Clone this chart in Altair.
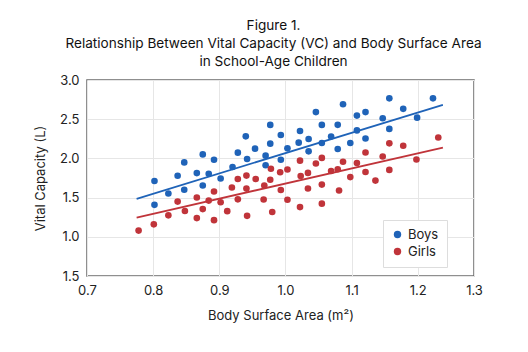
import altair as alt
import pandas as pd

boys_x = [0.802, 0.802, 0.823, 0.837, 0.847, 0.847, 0.866, 0.875, 0.875, 0.884,
          0.892, 0.902, 0.920, 0.928, 0.940, 0.942, 0.954, 0.970, 0.970, 0.977,
          0.977, 0.993, 0.993, 1.003, 1.020, 1.022, 1.035, 1.035, 1.046, 1.055,
          1.055, 1.069, 1.079, 1.079, 1.087, 1.098, 1.108, 1.108, 1.121, 1.121,
          1.147, 1.157, 1.157, 1.178, 1.199, 1.223]
boys_y = [1.711, 1.408, 1.552, 1.779, 1.949, 1.600, 1.813, 2.051, 1.655, 1.804,
          1.983, 1.744, 1.890, 2.073, 2.281, 1.992, 2.124, 2.035, 1.913, 2.427,
          2.188, 2.299, 1.983, 2.128, 2.201, 2.350, 2.248, 2.090, 2.591, 2.427,
          2.197, 2.278, 2.428, 2.120, 2.691, 2.197, 2.546, 2.357, 2.591, 2.254,
          2.512, 2.766, 2.376, 2.632, 2.520, 2.766]
girls_x = [0.778, 0.801, 0.823, 0.837, 0.848, 0.866, 0.866, 0.875, 0.884, 0.892,
           0.892, 0.902, 0.912, 0.919, 0.928, 0.928, 0.941, 0.941, 0.942, 0.955,
           0.967, 0.968, 0.978, 0.977, 0.980, 0.992, 0.993, 1.003, 1.003, 1.022,
           1.023, 1.022, 1.034, 1.034, 1.046, 1.055, 1.055, 1.055, 1.069, 1.079,
           1.081, 1.087, 1.098, 1.108, 1.121, 1.121, 1.136, 1.147, 1.157, 1.157,
           1.178, 1.198, 1.231]
girls_y = [1.079, 1.159, 1.274, 1.449, 1.329, 1.501, 1.239, 1.353, 1.462, 1.578,
           1.212, 1.440, 1.327, 1.629, 1.737, 1.478, 1.781, 1.615, 1.267, 1.737,
           1.476, 1.655, 1.868, 1.728, 1.316, 1.824, 1.597, 1.858, 1.472, 1.971,
           1.775, 1.379, 1.815, 1.616, 1.935, 2.006, 1.666, 1.423, 1.839, 1.862,
           1.591, 1.958, 1.762, 1.941, 2.075, 1.827, 1.717, 2.024, 2.192, 1.853,
           2.162, 1.986, 2.267]

fit_x = [0.775, 1.238]
boys_fit = [1.485, 2.683]
girls_fit = [1.246, 2.137]

x_ticks = [0.7, 0.8, 0.9, 1.0, 1.1, 1.2, 1.285]
y_ticks = [0.5, 1.0, 1.5, 2.0, 2.5, 3.0]

BLUE = "#1f63b8"
RED = "#c0343a"
FONT = "Inter"

pts = pd.DataFrame({
    "bsa": boys_x + girls_x,
    "vc": boys_y + girls_y,
    "group": ["Boys"] * len(boys_x) + ["Girls"] * len(girls_x),
})
boys_line = pd.DataFrame({"bsa": fit_x, "vc": boys_fit})
girls_line = pd.DataFrame({"bsa": fit_x, "vc": girls_fit})

xscale = alt.Scale(domain=[0.7, 1.285], nice=False, zero=False)
yscale = alt.Scale(domain=[0.5, 3.0], nice=False, zero=False)

xaxis = alt.Axis(
    title="Body Surface Area (m²)", values=x_ticks, format=".1f", tickCount=20,
    labelExpr="datum.value > 1.25 ? '1.3' : datum.label",
    ticks=False, domain=False, labelPadding=8, titlePadding=12,
    labelFontSize=13, titleFontSize=13, labelColor="#222", titleColor="#222",
    titleFontWeight="normal", labelFont=FONT, titleFont=FONT,
    gridColor="#e6e6e6", labelFlush=False, labelOverlap=False,
)
yaxis = alt.Axis(
    title="Vital Capacity (L)", values=y_ticks, format=".1f", tickCount=20,
    labelExpr="datum.value < 0.75 ? '1.5' : datum.label",
    ticks=False, domain=False, labelPadding=8, titlePadding=12,
    labelFontSize=13, titleFontSize=13, labelColor="#222", titleColor="#222",
    titleFontWeight="normal", labelFont=FONT, titleFont=FONT,
    gridColor="#e6e6e6", labelFlush=False, labelOverlap=False,
)

points = alt.Chart(pts).mark_circle(size=44, opacity=1).encode(
    x=alt.X("bsa:Q", scale=xscale, axis=xaxis),
    y=alt.Y("vc:Q", scale=yscale, axis=yaxis),
    color=alt.Color(
        "group:N",
        scale=alt.Scale(domain=["Boys", "Girls"], range=[BLUE, RED]),
        legend=alt.Legend(
            title=None, orient="none", legendX=296, legendY=140,
            symbolType="circle", symbolSize=55, labelFontSize=13,
            labelFont=FONT, labelColor="#222", fillColor="white",
            strokeColor="#dddddd", padding=8, rowPadding=3,
        ),
    ),
)

l1 = alt.Chart(boys_line).mark_line(color=BLUE, strokeWidth=1.8).encode(
    x=alt.X("bsa:Q", scale=xscale), y=alt.Y("vc:Q", scale=yscale))
l2 = alt.Chart(girls_line).mark_line(color=RED, strokeWidth=1.8).encode(
    x=alt.X("bsa:Q", scale=xscale), y=alt.Y("vc:Q", scale=yscale))

chart = alt.layer(points, l1, l2).properties(
    width=387, height=196,
    title=alt.TitleParams(
        ["Figure 1.", "Relationship Between Vital Capacity (VC) and Body Surface Area",
         "in School-Age Children"],
        fontSize=13.6, fontWeight="normal", lineHeight=18, font=FONT,
        color="#111", anchor="middle", offset=5, dx=-7,
    ),
    padding={"left": 87, "top": 80, "right": 54, "bottom": 76},
    autosize=alt.AutoSizeParams(type="none"),
    background="white",
).configure_view(stroke="#6b6b6b", strokeWidth=1.5)

chart.save("out.html", embed_options={"renderer": "svg", "actions": False})
